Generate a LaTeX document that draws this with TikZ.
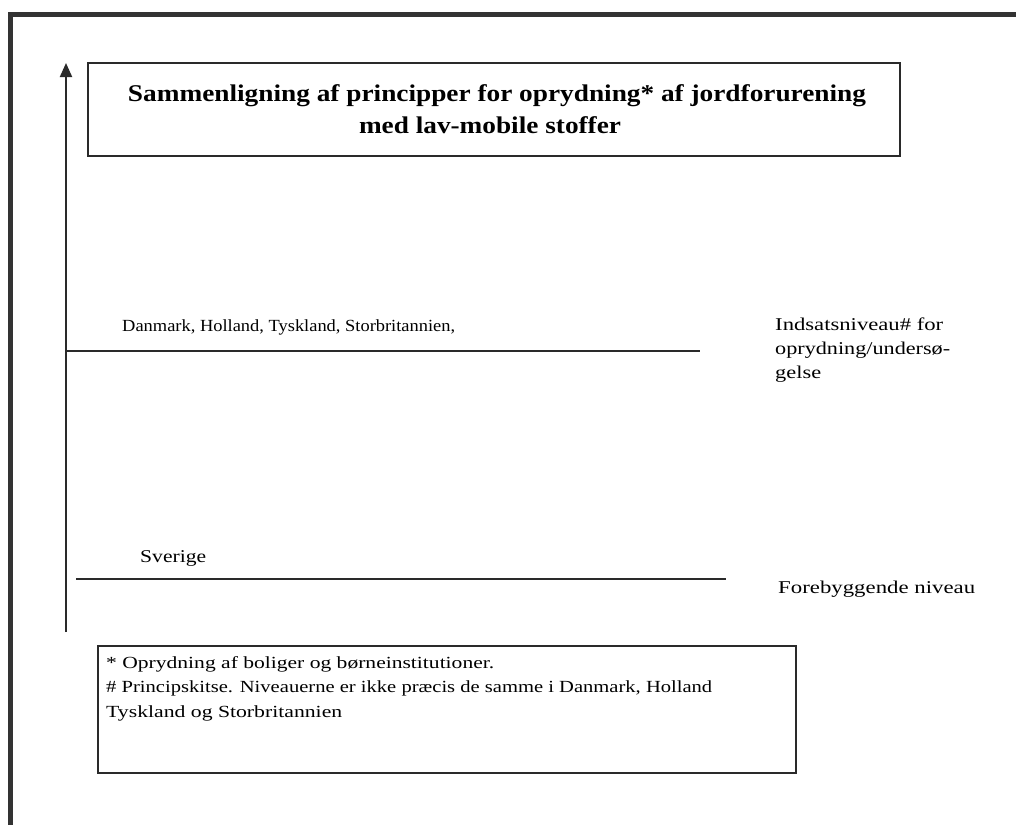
\documentclass[tikz,border=0pt]{standalone}
\usepackage{graphicx}
\usepackage{fontspec}
\setmainfont{Liberation Serif}
\usetikzlibrary{arrows.meta}
\definecolor{framegray}{HTML}{333333}
\definecolor{linegray}{HTML}{2A2A2A}
\newcommand{\fitw}[2]{\resizebox{#1}{\height}{#2}}
\tikzset{
  lbl/.style={anchor=base west, inner sep=0pt, font=\fontsize{18}{22}\selectfont, text=black},
  lblsmall/.style={anchor=base west, inner sep=0pt, font=\fontsize{17}{21}\selectfont, text=black},
  foot/.style={anchor=base west, inner sep=0pt, font=\fontsize{17}{21}\selectfont, text=black},
  ttl/.style={anchor=base, inner sep=0pt, font=\bfseries\fontsize{24}{28}\selectfont, text=black},
  boxline/.style={draw=linegray, line width=2pt},
  level/.style={draw=linegray, line width=2pt},
}
\begin{document}
\begin{tikzpicture}[x=1pt,y=-1pt]
\useasboundingbox (0,0) rectangle (1016,825);
% frame
\fill[framegray] (8,12) rectangle (1016,17);
\fill[framegray] (8,12) rectangle (13,825);
% title box
\draw[boxline] (88,63) rectangle (900,156);
\node[ttl] (t1) at (497,101) {\fitw{738pt}{Sammenligning af principper for oprydning* af jordforurening}};
\node[ttl] (t2) at (490,133) {\fitw{262pt}{med lav-mobile stoffer}};
% axis
\coordinate (ax0) at (66,632);
\coordinate (ax1) at (66,63);
\draw[line width=2pt, draw=linegray, -{Triangle[width=12pt,length=14pt]}] (ax0) -- (ax1);
% levels
\coordinate (l1a) at (66,351);
\coordinate (l1b) at (700,351);
\draw[level] (l1a) -- (l1b);
\coordinate (l2a) at (76,579);
\coordinate (l2b) at (726,579);
\draw[level] (l2a) -- (l2b);
% labels
\node[lblsmall] (dk) at (122,331) {\fitw{333pt}{Danmark, Holland, Tyskland, Storbritannien,}};
\node[lbl] (in1) at (775,330) {\fitw{168pt}{Indsatsniveau\# for}};
\node[lbl] (in2) at (775,354) {\fitw{175pt}{oprydning/undersø-}};
\node[lbl] (in3) at (775,378) {\fitw{46pt}{gelse}};
\node[lbl] (se) at (140,562) {\fitw{66pt}{Sverige}};
\node[lbl] (fo) at (778,593) {\fitw{197pt}{Forebyggende niveau}};
% footnote box
\draw[boxline] (98,646) rectangle (796,773);
\node[foot] (f1) at (106,668) {\fitw{388pt}{* Oprydning af boliger og børneinstitutioner.}};
\node[foot] (f2) at (106,692) {\fitw{606pt}{\# Principskitse. Niveauerne er ikke præcis de samme i Danmark, Holland}};
\node[foot] (f3) at (106,717) {\fitw{236pt}{Tyskland og Storbritannien}};
\end{tikzpicture}
\end{document}
